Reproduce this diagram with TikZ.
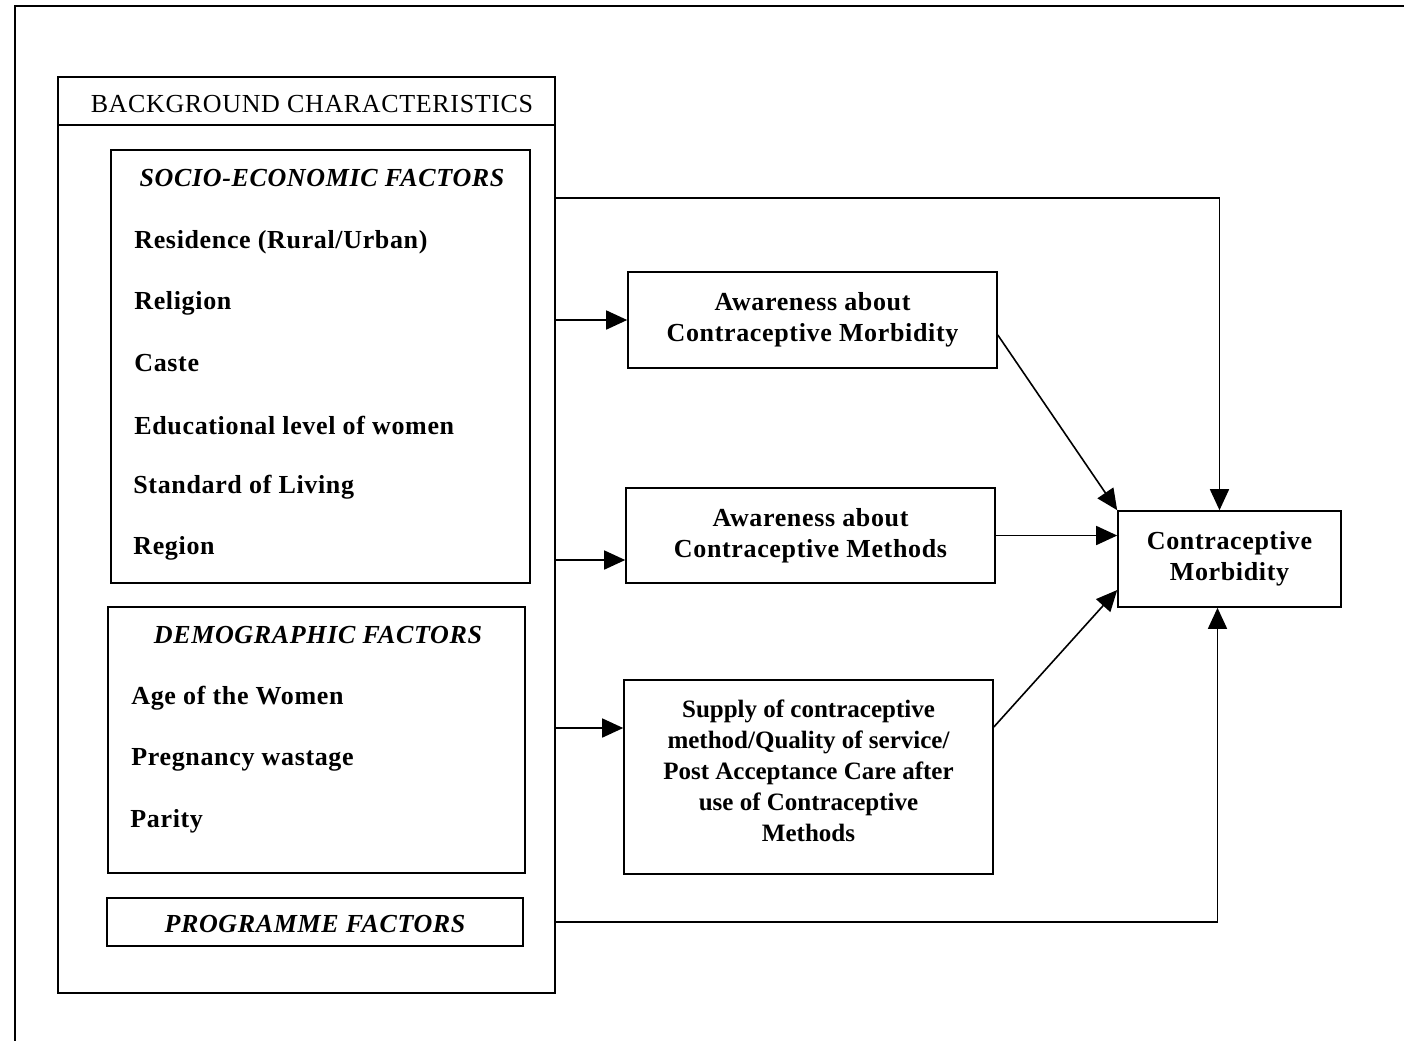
\documentclass[tikz,border=0pt]{standalone}
\usepackage{fontspec}
\setmainfont{Liberation Serif}
\newfontfamily\spc[LetterSpace=2.5]{Liberation Serif}
\usetikzlibrary{arrows.meta,fit}

\tikzset{
  box/.style={draw, line width=0.8pt, inner sep=0pt},
  item/.style={anchor=west, inner sep=0pt, font=\spc\bfseries\fontsize{13}{15.5}\selectfont},
  head/.style={inner sep=0pt, font=\spc\bfseries\itshape\fontsize{13}{15.5}\selectfont},
  midbox/.style={box, align=center, font=\spc\bfseries\fontsize{13}{15.5}\selectfont},
  link/.style={line width=0.8pt, -{Triangle[length=10.5pt,width=9.5pt]}}
}

\begin{document}
\begin{tikzpicture}[x=0.5pt, y=-0.5pt]
	\useasboundingbox (0,0) rectangle (1404,1041);
	% frame
	\draw[line width=0.8pt] (1404,6) -- (15,6) -- (15,1041);
	% background characteristics
	\node[box, fit={(58,77) (555,993)}] (bg) {};
	\draw[line width=0.8pt] (bg.west |- 0,125) -- (bg.east |- 0,125);
	\node[inner sep=0pt, font=\spc\fontsize{13}{15.5}\selectfont] (bghead) at (312,104) {BACKGROUND CHARACTERISTICS};
	% socio-economic factors
	\node[box, fit={(111,150) (530,583)}] (soc) {};
	\node[head] (sochead) at (322,178) {SOCIO-ECONOMIC FACTORS};
	\node[item] (res) at (134,242) {Residence (Rural/Urban)};
	\node[item] (rel) at (134,303) {Religion};
	\node[item] (cas) at (134,363) {Caste};
	\node[item] (edu) at (134,425) {Educational level of women};
	\node[item] (sol) at (133,487) {Standard of Living};
	\node[item] (reg) at (133,548) {Region};
	% demographic factors
	\node[box, fit={(108,607) (525,873)}] (dem) {};
	\node[head] (demhead) at (318,635) {DEMOGRAPHIC FACTORS};
	\node[item] (age) at (131,698) {Age of the Women};
	\node[item] (pw) at (131,760) {Pregnancy wastage};
	\node[item] (par) at (130,821) {Parity};
	% programme factors
	\node[box, fit={(107,898) (523,946)}] (prog) {};
	\node[head] (proghead) at ([yshift=-1pt]prog) {PROGRAMME FACTORS};
	% intermediate boxes
	\node[midbox, minimum width=184.5pt, minimum height=48pt] (awm) at (812.5,320) {Awareness about\\Contraceptive Morbidity};
	\node[midbox, minimum width=184.5pt, minimum height=47.5pt] (awc) at (810.5,535.5) {Awareness about\\Contraceptive Methods};
	\node[box, minimum width=184.5pt, minimum height=97pt] (sup) at (808.5,777) {};
	\node[align=center, inner sep=0pt, font=\bfseries\fontsize{12.5}{15.5}\selectfont] (suptext) at (808.5,771) {Supply of contraceptive\\method/Quality of service/\\Post Acceptance Care after\\use of Contraceptive\\Methods};
	% outcome
	\node[midbox, minimum width=111.5pt, minimum height=48pt] (cm) at (1229.5,559) {Contraceptive\\Morbidity};
	% arrows
	\draw[link] (bg.east |- 0,198) -| ([xshift=-5pt]cm.north);
	\draw[link] (bg.east |- awm) -- (awm);
	\draw[link] (bg.east |- 0,560) -- (awc.west |- 0,560);
	\draw[link] (bg.east |- 0,728) -- (sup.west |- 0,728);
	\draw[link] (bg.east |- prog) -| ([xshift=-6pt]cm.south);
	\draw[link] ([yshift=-7.5pt]awm.east) -- (cm.north west);
	\draw[link] (awc.east) -- (awc.east -| cm.west);
	\draw[link] ([yshift=25pt]sup.east) -- ([yshift=-15.5pt]cm.west);
\end{tikzpicture}
\end{document}
